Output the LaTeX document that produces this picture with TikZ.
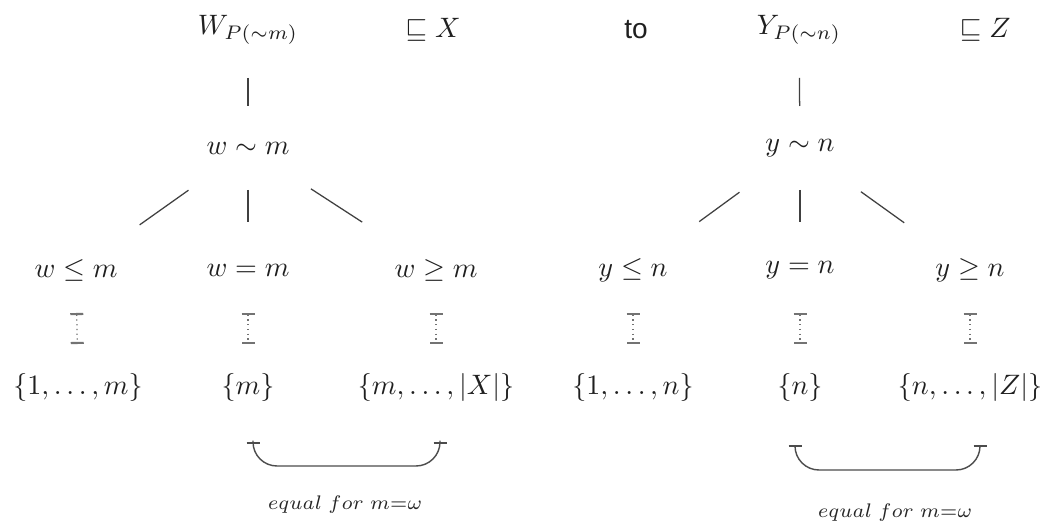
\documentclass[tikz,border=0pt]{standalone}
\usepackage{amssymb}
\usepackage{fontspec}
\newfontfamily\tofont{Liberation Sans}
\usetikzlibrary{arrows.meta}
\def\PX{0.356pt}
\tikzset{
  lbl/.style={inner sep=0pt, text=black!88},
  ln/.style={draw=black!75, line width=0.45pt},
  dotbar/.style={draw=black!55, line width=0.45pt, dash pattern=on 0.45pt off 1.25pt,
    {Bar[width=13*\PX,line width=0.75pt,sep=0pt]}-{Bar[width=13*\PX,line width=0.75pt,sep=0pt]}},
  brk/.style={draw=black!70, line width=0.5pt, rounded corners=24*\PX,
    {Bar[width=13*\PX,line width=0.6pt]}-{Bar[width=13*\PX,line width=0.6pt]}},
  eq/.style={inner sep=0pt, text=black!85, font=\scriptsize}
}
\begin{document}
\begin{tikzpicture}[x=\PX, y=-\PX]
\useasboundingbox (0,0) rectangle (1047,527);
% top row
\node[lbl] (W) at (248,30) {$W_{P(\sim m)}$};
\node[lbl] (X) at (433,30) {$\sqsubseteq X$};
\node[lbl] (to) at (636,30) {\tofont to};
\node[lbl] (Y) at (799,30) {$Y_{P(\sim n)}$};
\node[lbl] (Z) at (985,30) {$\sqsubseteq Z$};
% second row
\node[lbl] (wm) at (248,148) {$w\sim m$};
\node[lbl] (yn) at (800,148) {$y\sim n$};
% third row
\node[lbl] (wle) at (76,270) {$w\leq m$};
\node[lbl] (weq) at (248,270) {$w=m$};
\node[lbl] (wge) at (436,270) {$w\geq m$};
\node[lbl] (yle) at (633,270) {$y\leq n$};
\node[lbl] (yeq) at (800,270) {$y=n$};
\node[lbl] (yge) at (970,270) {$y\geq n$};
% fourth row
\node[lbl] (s1) at (78,387) {$\{1,\ldots,m\}$};
\node[lbl] (s2) at (248,387) {$\{m\}$};
\node[lbl] (s3) at (436,387) {$\{m,\ldots,|X|\}$};
\node[lbl] (t1) at (633,387) {$\{1,\ldots,n\}$};
\node[lbl] (t2) at (800,387) {$\{n\}$};
\node[lbl] (t3) at (970,387) {$\{n,\ldots,|Z|\}$};
% labels
\node[eq] (e1) at (345,505) {$equal\;for\;m{=}\omega$};
\node[eq] (e2) at (895,513) {$equal\;for\;m{=}\omega$};
% tree lines
\draw[ln, shorten <=48*\PX, shorten >=42*\PX] (W.center) -- (wm.center);
\draw[ln, shorten <=73*\PX, shorten >=78*\PX] (wm.center) -- (wle.center);
\draw[ln, shorten <=42*\PX, shorten >=48*\PX] (wm.center) -- (weq.center);
\draw[ln, shorten <=75*\PX, shorten >=88*\PX] (wm.center) -- (wge.center);
\draw[ln, shorten <=48*\PX, shorten >=42*\PX] (Y.center) -- (yn.center);
\draw[ln, shorten <=75*\PX, shorten >=82*\PX] (yn.center) -- (yle.center);
\draw[ln, shorten <=42*\PX, shorten >=48*\PX] (yn.center) -- (yeq.center);
\draw[ln, shorten <=75*\PX, shorten >=81*\PX] (yn.center) -- (yge.center);
% dotted bars
\foreach \a/\b in {wle/s1, weq/s2, wge/s3, yle/t1, yeq/t2, yge/t3}
  \draw[dotbar, shorten <=43*\PX, shorten >=43*\PX] (\a.center) -- (\b.center);
% brackets
\coordinate (b1) at (253,442);
\coordinate (b2) at (440,442);
\coordinate (c1) at (795,445);
\coordinate (c2) at (980,445);
\draw[brk] (b1) -- (253,466) -- (440,466) -- (b2);
\draw[brk] (c1) -- (795,470) -- (980,470) -- (c2);
\end{tikzpicture}
\end{document}
